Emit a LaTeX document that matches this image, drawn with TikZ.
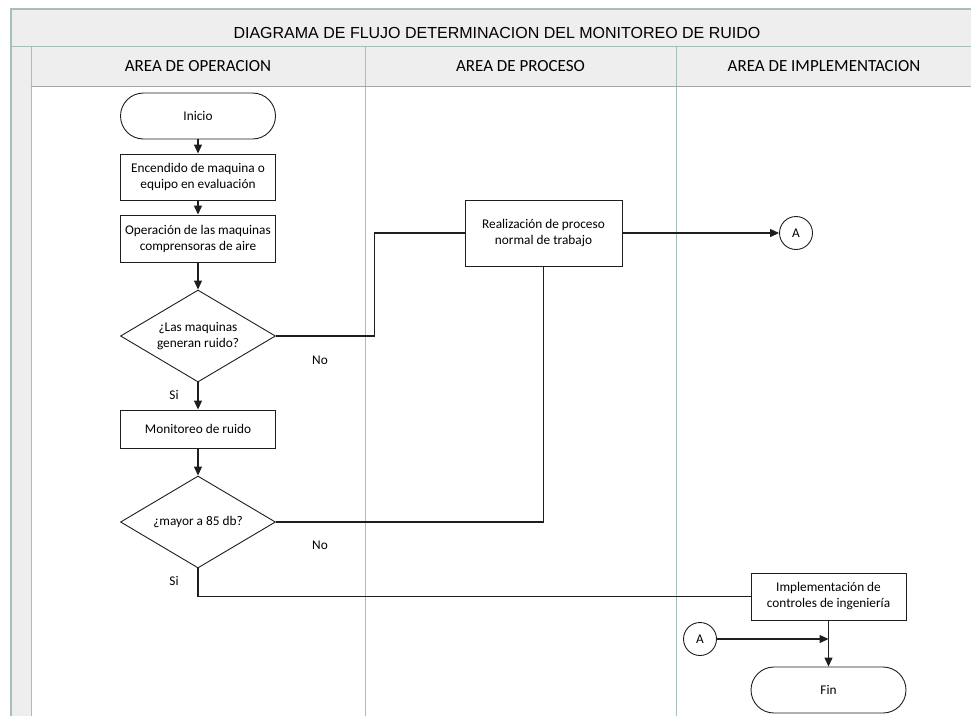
\documentclass[tikz,border=0pt]{standalone}
\usepackage{fontspec}
\setmainfont{Carlito}
\newfontfamily\titlefont{Liberation Sans}
\usetikzlibrary{shapes.geometric,arrows.meta}
\definecolor{lanefill}{HTML}{EEEEEE}
\definecolor{laneline}{HTML}{A6BFB7}
\definecolor{ink}{HTML}{1E1E1E}
\newcommand\flowfont{\fontsize{13.3}{16}\selectfont}
\begin{document}
\begin{tikzpicture}[x=1pt,y=-1pt,
  box/.style={draw=ink, line width=0.9pt, fill=white, minimum width=155pt,
    minimum height=46pt, align=center, inner sep=2pt, font=\flowfont},
  terminal/.style={box, rounded corners=23pt},
  decision/.style={draw=ink, line width=0.9pt, fill=white, diamond, aspect=1.68,
    minimum width=155pt, minimum height=92pt, inner sep=0pt, align=center, font=\flowfont},
  connector/.style={draw=ink, line width=0.9pt, fill=white, circle,
    minimum size=33pt, inner sep=0pt, font=\flowfont},
  flow/.style={draw=ink, line width=1.2pt, -{Triangle[length=9pt,width=8pt]}},
  link/.style={draw=ink, line width=1.2pt},
  lbl/.style={font=\flowfont, inner sep=0pt},
  head/.style={font=\fontsize{17}{20}\selectfont, inner sep=0pt}
]
\useasboundingbox (0,0) rectangle (971,715);

% swimlane frame
\fill[lanefill] (11,9) rectangle (980,86);
\fill[lanefill] (11,86) rectangle (31,720);
\draw[laneline, line width=1.2pt] (980,9) -- (11,9) -- (11,720);
\draw[laneline, line width=1pt] (11,46) -- (980,46);
\draw[laneline, line width=1pt] (31,46) -- (31,720);
\draw[laneline, line width=1pt] (365,46) -- (365,720);
\draw[laneline, line width=1pt] (676,46) -- (676,720);
\draw[black!35, line width=1.6pt] (31,86.5) -- (980,86.5);

\node[font=\titlefont\fontsize{16}{19}\selectfont, inner sep=0pt] (title) at (497,33)
  {DIAGRAMA DE FLUJO DETERMINACION DEL MONITOREO DE RUIDO};
\node[head] (lane1) at (198,66) {AREA DE OPERACION};
\node[head] (lane2) at (520.5,66) {AREA DE PROCESO};
\node[head] (lane3) at (824,66) {AREA DE IMPLEMENTACION};

% flow nodes
\node[terminal] (inicio) at (198,116) {Inicio};
\node[box] (enc) at (198,177) {Encendido de maquina o\\equipo en evaluación};
\node[box, minimum height=47pt] (oper) at (198,238.5) {Operación de las maquinas\\comprensoras de aire};
\node[decision] (d1) at (198,336) {¿Las maquinas\\generan ruido?};
\node[box, minimum height=38pt] (mon) at (198,429) {Monitoreo de ruido};
\node[decision] (d2) at (198,522) {¿mayor a 85 db?};
\node[box, minimum width=157pt, minimum height=66pt] (proc) at (543.5,233)
  {Realización de proceso\\normal de trabajo};
\node[connector] (a1) at (796,233) {A};
\node[box, minimum height=47pt] (impl) at (828.5,596.5)
  {Implementación de\\controles de ingeniería};
\node[connector] (a2) at (700,639) {A};
\node[terminal] (fin) at (828.5,690) {Fin};

% connectors
\draw[flow] (inicio) -- (enc);
\draw[flow] (enc) -- (oper);
\draw[flow] (oper) -- (d1);
\draw[flow] (d1) -- (mon);
\draw[flow] (mon) -- (d2);
\draw[link] (d1.east) -- ++(98.5,0) |- (proc.west);
\draw[link] (d2.east) -| (proc.south);
\draw[flow] (proc.east) -- (a1.west);
\draw[link] (d2.south) |- (impl.west);
\draw[flow] (a2.east) -- (a2.east -| impl.south);
\draw[flow] (impl) -- (fin);

% branch labels
\node[lbl] (no1) at (320,360) {No};
\node[lbl] (si1) at (174,395) {Si};
\node[lbl] (no2) at (320,545) {No};
\node[lbl] (si2) at (174,581) {Si};
\end{tikzpicture}
\end{document}
